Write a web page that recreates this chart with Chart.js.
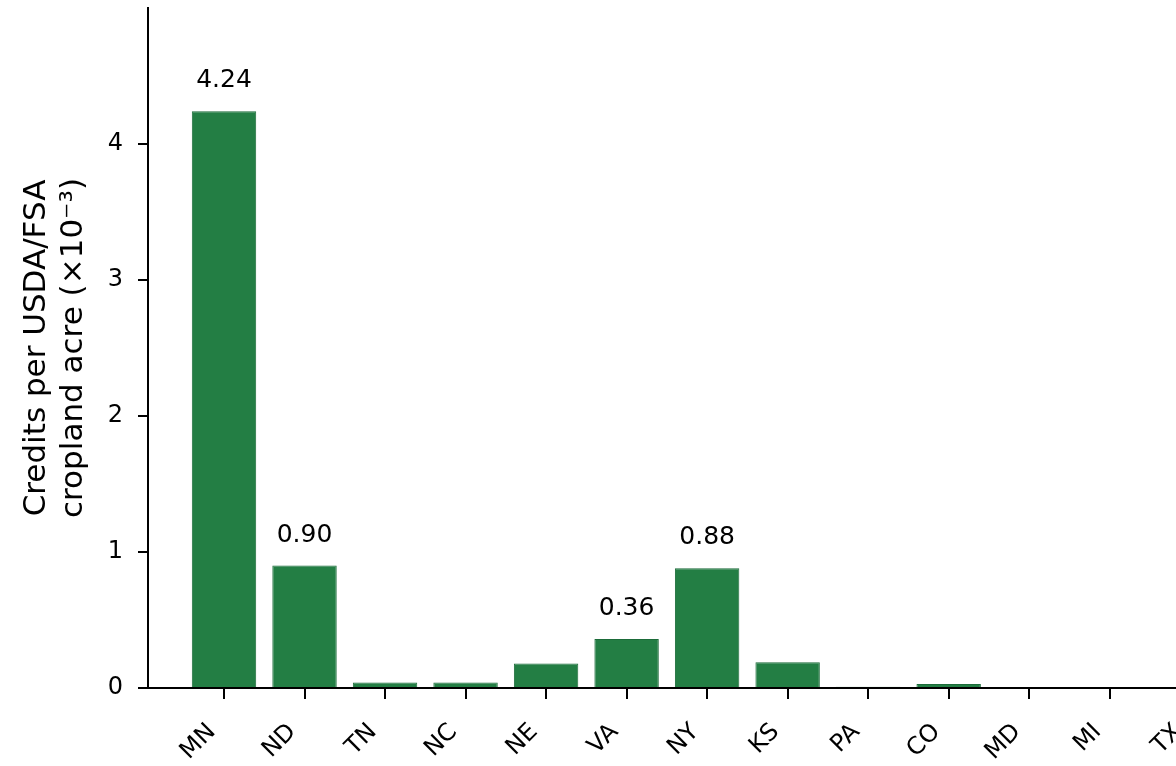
<!DOCTYPE html>
<html>
<head>
<meta charset="utf-8">
<script src="https://cdn.jsdelivr.net/npm/chart.js@4"></script>
<style>
  html, body { margin: 0; padding: 0; background: #fff; overflow: hidden; width: 1176px; height: 766px; }
  #frame { width: 1176px; height: 766px; overflow: hidden; position: relative; }
  #chart-credits { position: absolute; left: 0; top: 0; }
</style>
</head>
<body>
<div id="frame"><canvas id="chart-credits" width="1320" height="766"></canvas></div>
<script>
(function () {
  const states = ["MN", "ND", "TN", "NC", "NE", "VA", "NY", "KS", "PA", "CO", "MD", "MI", "TX"];
  const creditsPerAcre = [4.24, 0.90, 0.04, 0.04, 0.18, 0.36, 0.88, 0.19, 0.01, 0.03, 0, 0, 0];
  const labelledStates = ["MN", "ND", "VA", "NY"];
  const yTicks = [0, 1, 2, 3, 4];

  const FONT = "'DejaVu Sans', sans-serif";
  const BAR_GREEN = "#237e44";

  // value text above the highlighted bars
  const valueLabels = {
    id: "valueLabels",
    afterDatasetsDraw(chart) {
      const ctx = chart.ctx;
      const meta = chart.getDatasetMeta(0);
      ctx.save();
      ctx.font = "25px " + FONT;
      ctx.fillStyle = "#000";
      ctx.textAlign = "center";
      ctx.textBaseline = "alphabetic";
      meta.data.forEach(function (bar, i) {
        if (labelledStates.indexOf(states[i]) === -1) return;
        ctx.fillText(creditsPerAcre[i].toFixed(2), bar.x, bar.y - 24);
      });
      ctx.restore();
    }
  };

  // keep the plot box fixed: no extra room for rotated / end labels
  function noPadding(scale) {
    scale.paddingLeft = 0;
    scale.paddingRight = 0;
    scale.paddingTop = 0;
    scale.paddingBottom = 0;
  }

  const points = states.map(function (s, i) {
    return { x: i, y: creditsPerAcre[i] };
  });

  new Chart(document.getElementById("chart-credits"), {
    type: "bar",
    data: {
      datasets: [
        {
          data: points,
          backgroundColor: BAR_GREEN,
          borderColor: "#1b6b39",
          borderWidth: 1,
          barPercentage: 0.8,
          categoryPercentage: 1
        }
      ]
    },
    options: {
      responsive: false,
      animation: false,
      layout: { padding: { left: 0, top: 8, right: 9, bottom: 0 } },
      plugins: {
        legend: { display: false },
        tooltip: { enabled: false }
      },
      scales: {
        x: {
          type: "linear",
          offset: false,
          min: -0.944,
          max: 13.5,
          afterBuildTicks: function (scale) {
            scale.ticks = states.map(function (s, i) { return { value: i }; });
          },
          afterFit: function (scale) { scale.height = 78; noPadding(scale); },
          border: { color: "#000", width: 2 },
          grid: { offset: false, drawOnChartArea: false, tickLength: 11, color: "#000", lineWidth: 2 },
          ticks: {
            autoSkip: false,
            minRotation: 45,
            maxRotation: 45,
            padding: 19,
            labelOffset: -12,
            color: "#000",
            font: { family: FONT, size: 24 },
            callback: function (v) { return states[v]; }
          }
        },
        y: {
          min: 0,
          max: 5,
          afterBuildTicks: function (scale) {
            scale.ticks = yTicks.map(function (v) { return { value: v }; });
          },
          afterFit: function (scale) { scale.width = 148; noPadding(scale); },
          border: { color: "#000", width: 2 },
          grid: { drawOnChartArea: false, tickLength: 10, color: "#000", lineWidth: 2 },
          ticks: {
            padding: 15,
            color: "#000",
            font: { family: FONT, size: 24 }
          },
          title: {
            display: true,
            text: ["Credits per USDA/FSA", "cropland acre (\u00d710\u207b\u00b3)"],
            color: "#000",
            padding: { top: 18, bottom: 0 },
            font: { family: FONT, size: 31, lineHeight: 1.2 }
          }
        }
      }
    },
    plugins: [valueLabels]
  });
})();
</script>
</body>
</html>
